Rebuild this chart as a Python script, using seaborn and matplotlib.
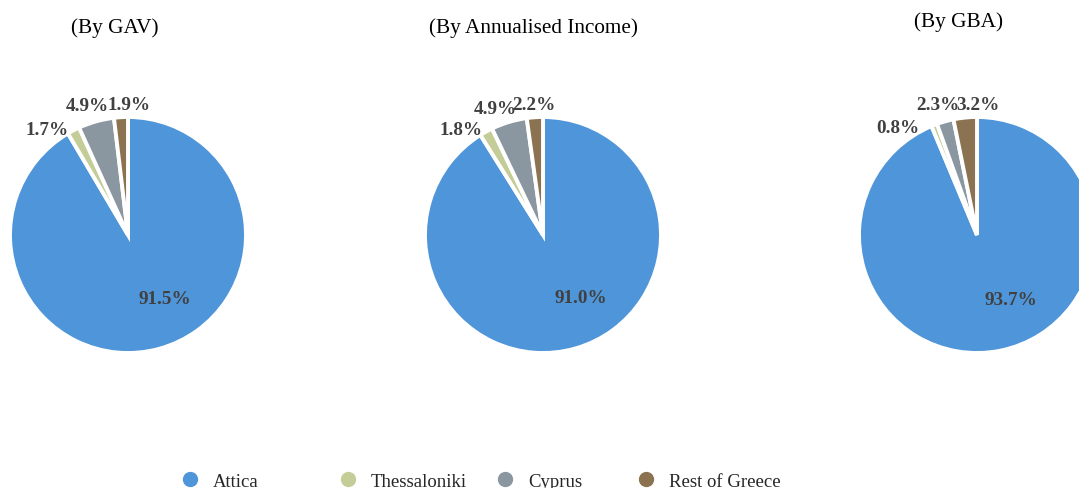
import numpy as np
import matplotlib
matplotlib.use("Agg")
import matplotlib.pyplot as plt
import seaborn as sns

# Portfolio split by region
regions = ["Attica", "Thessaloniki", "Cyprus", "Rest of Greece"]
gav = [91.5, 1.7, 4.9, 1.9]
annualised_income = [91.0, 1.8, 4.9, 2.2]
gba = [93.7, 0.8, 2.3, 3.2]
titles = ["(By GAV)", "(By Annualised Income)", "(By GBA)"]

sns.set_theme(style="white")
plt.rcParams["font.family"] = ["Liberation Serif", "DejaVu Serif"]

colors = ["#4F95D9", "#C4CD97", "#8A96A0", "#8B7352"]
label_color = "#404040"

W, H = 1079, 489
fig = plt.figure(figsize=(W / 100, H / 100), dpi=100)

R = 118  # pie radius in pixels
centers = [(128, 236), (543, 236), (977, 236)]
title_pos = [(115, 28), (533, 28), (958, 22)]
# angular nudges (degrees) for each slice label, to keep small labels apart
nudges = [[15, 10, 2, -4], [15, 9, 4, 0], [16, 15, 1, -6]]
label_radius = [0.62, 1.13, 1.15, 1.11]

for values, title, (cx, cy), (tx, ty), nudge in zip(
        [gav, annualised_income, gba], titles, centers, title_pos, nudges):
    ax = fig.add_axes([(cx - R) / W, (H - cy - R) / H, 2 * R / W, 2 * R / H])
    wedges, _ = ax.pie(values, colors=colors, startangle=90, counterclock=False,
                       radius=1.0,
                       wedgeprops=dict(edgecolor="white", linewidth=2.8))
    ax.set_xlim(-1, 1)
    ax.set_ylim(-1, 1)
    ax.set_aspect("equal")
    ax.axis("off")
    for i, (w, v) in enumerate(zip(wedges, values)):
        mid = np.deg2rad((w.theta1 + w.theta2) / 2 + nudge[i])
        d = label_radius[i]
        ax.text(d * np.cos(mid), d * np.sin(mid), f"{v:.1f}%",
                ha="center", va="center", fontsize=13.8, fontweight="bold",
                color=label_color, clip_on=False)
    fig.text(tx / W, 1 - ty / H, title, ha="center", va="center",
             fontsize=15.3, color="black")

# one legend entry per region, spaced along the bottom
legend_x = [189, 347, 504, 645]
for name, c, lx in zip(regions, colors, legend_x):
    h = plt.Line2D([], [], marker="o", linestyle="", markersize=10,
                   markerfacecolor=c, markeredgecolor=c)
    fig.legend([h], [name], loc="center left",
               bbox_to_anchor=((lx - 8) / W, 1 - 482 / H),
               frameon=False, fontsize=13.5, handletextpad=0.7,
               handlelength=1.0, borderaxespad=0, borderpad=0)

fig.savefig("out.png", dpi=100)
